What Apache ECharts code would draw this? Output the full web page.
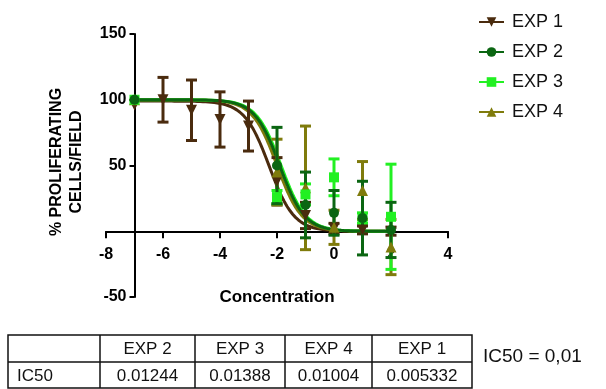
<!DOCTYPE html>
<html>
<head>
<meta charset="utf-8">
<script src="https://cdn.jsdelivr.net/npm/echarts@6/dist/echarts.min.js"></script>
<style>
  html, body { margin: 0; padding: 0; background: #ffffff; }
  #chart { width: 606px; height: 389px; }
</style>
</head>
<body>
<div id="chart"></div>
<script>
// ---- Series names and styles ----
const experiments = ['EXP 1', 'EXP 2', 'EXP 3', 'EXP 4'];
const colors = ['#4a2b0e', '#0b6612', '#22f022', '#7f7b0c'];
const symbols = ['triangle', 'circle', 'rect', 'triangle'];
const symbolRotations = [180, 0, 0, 0];

// ---- Measured points: log concentration, mean, SD ----
const logConc1 = [-7, -6, -5, -4, -3, -2, -1, 0, 1, 2];
const mean1 = [96, 100, 92, 85, 80, 38, 12, 2, 1, 0];
const sd1 = [0, 17, 23, 21, 19, 18, 10, 4, 3, 3];

const logConc2 = [-7, -2, -1, 0, 1, 2];
const mean2 = [100, 50, 20, 14, 10, 1];
const sd2 = [0, 29, 25, 17, 28, 21];

const logConc3 = [-7, -2, -1, 0, 1, 2];
const mean3 = [100, 26, 28, 41, 10, 11];
const sd3 = [0, 5, 8, 14, 4, 40];

const logConc4 = [-7, -2, -1, 0, 1, 2];
const mean4 = [100, 45, 33, 3, 31, -12];
const sd4 = [0, 25, 47, 13, 22, 21];

// ---- IC50 table ----
const tableHeader = ['', 'EXP 2', 'EXP 3', 'EXP 4', 'EXP 1'];
const tableRowLabel = 'IC50';
const tableIC50 = ['0.01244', '0.01388', '0.01004', '0.005332'];
const ic50Note = 'IC50 = 0,01';

// ---- Dose-response fit parameters (top, bottom, Hill slope) ----
const fitTop = [99, 100, 100, 100];
const fitBottom = [0, 0, 0, 0];
const hillSlope = [1, 1, 1, 1];
const fitRange = [-7, 2];

// ---- Axis ticks ----
const xTicks = { min: -8, max: 4, interval: 2 };
const yTicks = { min: -50, max: 150, interval: 50 };
const yAxisCrossing = -7;   // y axis drawn at this x value
const xAxisCrossing = 0;    // x axis drawn at this y value

const points = [
  [logConc1, mean1, sd1],
  [logConc2, mean2, sd2],
  [logConc3, mean3, sd3],
  [logConc4, mean4, sd4]
];

const FONT = "'Liberation Sans', Arial, sans-serif";
const plot = { left: 106, top: 34, width: 342, height: 263 };
// separate grids carry the crossing axes
const yAxisLeft = plot.left + (yAxisCrossing - xTicks.min) / (xTicks.max - xTicks.min) * plot.width;
const xAxisGridHeight = (yTicks.max - xAxisCrossing) / (yTicks.max - yTicks.min) * plot.height;

function ic50For(i) {
  const col = tableHeader.indexOf(experiments[i]) - 1;
  return parseFloat(tableIC50[col]);
}

// four-parameter logistic evaluated along the fitted range
function fitCurve(i) {
  const logIC = Math.log10(ic50For(i));
  const out = [];
  const steps = 180;
  for (let k = 0; k <= steps; k++) {
    const x = fitRange[0] + (fitRange[1] - fitRange[0]) * k / steps;
    const y = fitBottom[i] + (fitTop[i] - fitBottom[i]) / (1 + Math.pow(10, (x - logIC) * hillSlope[i]));
    out.push([x, y]);
  }
  return out;
}

function curveSeries(i) {
  return {
    type: 'line', name: experiments[i], xAxisIndex: 0, yAxisIndex: 0, z: 2,
    data: fitCurve(i), showSymbol: false, symbol: symbols[i], symbolRotate: symbolRotations[i],
    symbolSize: 10, smooth: false, silent: true,
    lineStyle: { color: colors[i], width: 3 }, itemStyle: { color: colors[i] }
  };
}

function errorSeries(i) {
  const [xs, ms, sds] = points[i];
  const data = [];
  xs.forEach((x, k) => { if (sds[k] > 0) data.push([x, ms[k] - sds[k], ms[k] + sds[k]]); });
  return {
    type: 'custom', name: experiments[i] + ' SD', xAxisIndex: 0, yAxisIndex: 0, z: 3,
    data: data, clip: false, silent: true,
    encode: { x: 0, y: [1, 2] },
    renderItem: function (params, api) {
      const lo = api.coord([api.value(0), api.value(1)]);
      const hi = api.coord([api.value(0), api.value(2)]);
      const hw = 5.5;
      const style = { stroke: colors[i], lineWidth: 3, fill: null };
      return {
        type: 'group', children: [
          { type: 'line', shape: { x1: lo[0], y1: lo[1], x2: hi[0], y2: hi[1] }, style: style },
          { type: 'line', shape: { x1: lo[0] - hw, y1: lo[1], x2: lo[0] + hw, y2: lo[1] }, style: style },
          { type: 'line', shape: { x1: hi[0] - hw, y1: hi[1], x2: hi[0] + hw, y2: hi[1] }, style: style }
        ]
      };
    }
  };
}

function pointSeries(i) {
  const [xs, ms] = points[i];
  return {
    type: 'scatter', name: experiments[i] + ' mean', xAxisIndex: 0, yAxisIndex: 0, z: 4,
    data: xs.map((x, k) => [x, ms[k]]), silent: true,
    symbol: symbols[i], symbolRotate: symbolRotations[i],
    symbolSize: symbols[i] === 'triangle' ? 11 : 10,
    itemStyle: { color: colors[i], opacity: 1 }
  };
}

// drawing order: EXP 1, EXP 4, EXP 3, EXP 2 (last on top)
const drawOrder = [0, 3, 2, 1];
const series = [];
drawOrder.forEach(i => series.push(curveSeries(i)));
drawOrder.forEach(i => series.push(errorSeries(i)));
drawOrder.forEach(i => series.push(pointSeries(i)));

// table graphics
const colEdges = [8, 100, 195, 285, 372, 472];
const rowEdges = [335, 362, 388];
const tableGraphics = [];
tableGraphics.push({
  type: 'rect', shape: { x: colEdges[0], y: rowEdges[0], width: colEdges[5] - colEdges[0], height: rowEdges[2] - rowEdges[0] },
  style: { fill: '#fff', stroke: '#111', lineWidth: 1.5 }
});
for (let c = 1; c < colEdges.length - 1; c++) {
  tableGraphics.push({ type: 'line', shape: { x1: colEdges[c], y1: rowEdges[0], x2: colEdges[c], y2: rowEdges[2] }, style: { stroke: '#111', lineWidth: 1.5 } });
}
tableGraphics.push({ type: 'line', shape: { x1: colEdges[0], y1: rowEdges[1], x2: colEdges[5], y2: rowEdges[1] }, style: { stroke: '#111', lineWidth: 1.5 } });
for (let c = 1; c < tableHeader.length; c++) {
  tableGraphics.push({
    type: 'text', x: (colEdges[c] + colEdges[c + 1]) / 2, y: (rowEdges[0] + rowEdges[1]) / 2 + 1,
    style: { text: tableHeader[c], font: '17px ' + FONT, fill: '#111', align: 'center', verticalAlign: 'middle' }
  });
  tableGraphics.push({
    type: 'text', x: (colEdges[c] + colEdges[c + 1]) / 2, y: (rowEdges[1] + rowEdges[2]) / 2 + 1,
    style: { text: tableIC50[c - 1], font: '17px ' + FONT, fill: '#111', align: 'center', verticalAlign: 'middle' }
  });
}
tableGraphics.push({
  type: 'text', x: 17, y: (rowEdges[1] + rowEdges[2]) / 2 + 1,
  style: { text: tableRowLabel, font: '17px ' + FONT, fill: '#111', align: 'left', verticalAlign: 'middle' }
});
tableGraphics.push({
  type: 'text', x: 483, y: 357,
  style: { text: ic50Note, font: '19px ' + FONT, fill: '#111', align: 'left', verticalAlign: 'middle' }
});

const axisLine = { show: true, onZero: false, lineStyle: { color: '#000', width: 2 } };
const tickLabel = { color: '#000', fontFamily: FONT, fontWeight: 'bold', fontSize: 16 };

const option = {
  animation: false,
  backgroundColor: '#ffffff',
  grid: [
    { left: plot.left, top: plot.top, width: plot.width, height: plot.height, containLabel: false },
    { left: yAxisLeft, top: plot.top, width: 300, height: plot.height, containLabel: false },
    { left: plot.left, top: plot.top, width: plot.width, height: xAxisGridHeight, containLabel: false }
  ],
  xAxis: [
    { type: 'value', gridIndex: 0, min: xTicks.min, max: xTicks.max, interval: xTicks.interval, show: false },
    { type: 'value', gridIndex: 1, min: 0, max: 1, show: false },
    {
      type: 'value', gridIndex: 2, position: 'bottom', min: xTicks.min, max: xTicks.max, interval: xTicks.interval,
      axisLine: axisLine,
      axisTick: { show: true, length: 7, lineStyle: { color: '#000', width: 2 } },
      axisLabel: Object.assign({ margin: 15 }, tickLabel),
      splitLine: { show: false }
    }
  ],
  yAxis: [
    { type: 'value', gridIndex: 0, min: yTicks.min, max: yTicks.max, interval: yTicks.interval, show: false },
    {
      type: 'value', gridIndex: 1, min: yTicks.min, max: yTicks.max, interval: yTicks.interval,
      axisLine: axisLine,
      axisTick: { show: true, length: 5, lineStyle: { color: '#000', width: 2 } },
      axisLabel: Object.assign({ margin: 8, formatter: v => (v === 0 ? '' : String(v)) }, tickLabel),
      splitLine: { show: false }
    },
    { type: 'value', gridIndex: 2, min: 0, max: 1, show: false }
  ],
  legend: {
    data: experiments, orient: 'vertical', left: 473, top: 7,
    itemWidth: 25, itemHeight: 12, itemGap: 10, selectedMode: false,
    textStyle: { color: '#111', fontFamily: FONT, fontSize: 18, lineHeight: 20, padding: [0, 0, 0, 3] }
  },
  graphic: [
    {
      type: 'text', x: 67, y: 162, rotation: Math.PI / 2,
      style: {
        text: '% PROLIFERATING\nCELLS/FIELD', font: 'bold 16px ' + FONT, fill: '#000',
        align: 'center', verticalAlign: 'middle', lineHeight: 20
      }
    },
    {
      type: 'text', x: 277, y: 297,
      style: { text: 'Concentration', font: 'bold 17px ' + FONT, fill: '#000', align: 'center', verticalAlign: 'middle' }
    }
  ].concat(tableGraphics),
  series: series
};

const chart = echarts.init(document.getElementById('chart'), null, { renderer: 'canvas' });
chart.setOption(option);
</script>
</body>
</html>
